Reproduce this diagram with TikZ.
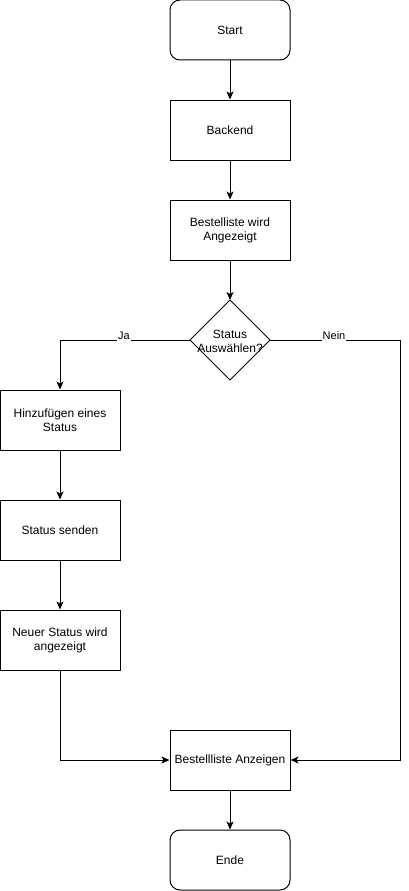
\documentclass[tikz,border=0pt]{standalone}
\usepackage{fontspec}
\setmainfont{Liberation Sans}
\usetikzlibrary{shapes.geometric,arrows.meta}
\begin{document}
\begin{tikzpicture}[x=1pt,y=-1pt,
  every node/.style={font=\fontsize{12}{14}\selectfont},
  box/.style={draw,line width=1pt,minimum width=120pt,minimum height=60pt,inner sep=0pt,align=center,fill=white},
  rbox/.style={box,rounded corners=10pt},
  dec/.style={draw,line width=1pt,diamond,minimum width=80pt,minimum height=80pt,inner sep=0pt,outer sep=0pt,aspect=1},
  conn/.style={draw,line width=1pt,-{Stealth[length=8pt,width=7pt,inset=2pt]}},
  lbl/.style={fill=white,inner sep=1pt,font=\fontsize{11}{13}\selectfont}]
\useasboundingbox (0,0) rectangle (409,891);
\node[rbox] (start) at (230,30) {Start};
\node[box] (backend) at (230,130) {Backend};
\node[box] (liste) at (230,230) {Bestelliste wird\\Angezeigt};
\node[dec] (status) at (230,340) {};
\node[align=center,inner sep=0pt] (statustext) at (230,341) {Status\\Auswählen?};
\node[box] (hinz) at (60,420) {Hinzufügen eines\\Status};
\node[box] (senden) at (60,530) {Status senden};
\node[box] (neuer) at (60,640) {Neuer Status wird\\angezeigt};
\node[box] (anz) at (230,760) {Bestellliste Anzeigen};
\node[rbox] (ende) at (230,860) {Ende};
\draw[conn] (start) -- (backend);
\draw[conn] (backend) -- (liste);
\draw[conn] (liste) -- (status.north);
\draw[conn] (status.west) -| (hinz.north);
\draw[conn] (status.east) -- (400,340) |- (anz.east);
\node[lbl] (ja) at (124,336) {Ja};
\node[lbl] (nein) at (334,336) {Nein};
\draw[conn] (hinz) -- (senden);
\draw[conn] (senden) -- (neuer);
\draw[conn] (neuer.south) |- (anz.west);
\draw[conn] (anz) -- (ende);
\end{tikzpicture}
\end{document}
